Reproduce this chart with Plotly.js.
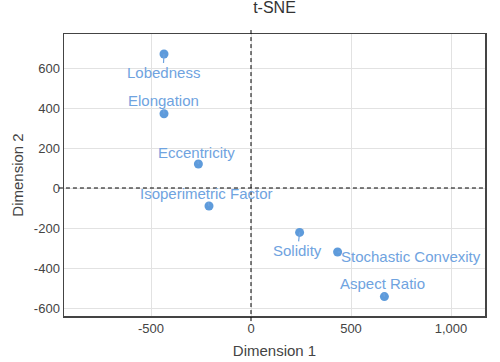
<!DOCTYPE html>
<html>
<head>
<meta charset="utf-8">
<script src="https://cdn.plot.ly/plotly-3.0.1.min.js"></script>
<style>html,body{margin:0;padding:0;background:#fff}#chart{width:500px;height:362px}</style>
</head>
<body>
<div id="chart"></div>
<script>
// Data
const features = ["Lobedness", "Elongation", "Eccentricity", "Isoperimetric Factor", "Solidity", "Stochastic Convexity", "Aspect Ratio"];
const dim1 = [-435, -435, -263, -210, 243, 433, 667];
const dim2 = [670, 371, 120, -90, -222, -320, -543];

// Tick values and labels
const xTickVals = [-500, 0, 500, 1000];
const xTickLabels = ["-500", "0", "500", "1,000"];
const yTickVals = [-600, -400, -200, 0, 200, 400, 600];
const yTickLabels = ["-600", "-400", "-200", "0", "200", "400", "600"];

// Label offsets in pixels (placement only)
const labelAx = [-1, -1, -2, -3, -2, 73, -2];
const labelAy = [18, -13, -12, -13, 18, 4, -13];

const pointColor = "#5e9bdb";
const labelColor = "#6fa3e0";
const fontFamily = "Arial, 'Liberation Sans', sans-serif";

const trace = {
  x: dim1,
  y: dim2,
  text: features,
  mode: "markers",
  type: "scatter",
  marker: {color: pointColor, size: 9},
  hoverinfo: "text",
  showlegend: false
};

const annotations = features.map((f, i) => ({
  x: dim1[i], y: dim2[i], xref: "x", yref: "y",
  text: f,
  showarrow: true,
  arrowhead: 0, arrowwidth: 1.2, arrowcolor: labelColor,
  ax: labelAx[i], ay: labelAy[i],
  standoff: 0, startstandoff: 0,
  borderpad: 0,
  font: {family: fontFamily, size: 15, color: labelColor}
}));

const layout = {
  width: 500, height: 362,
  margin: {l: 64, r: 15, t: 34, b: 46},
  paper_bgcolor: "#fff", plot_bgcolor: "#fff",
  font: {family: fontFamily, color: "#444"},
  title: {text: "t-SNE", xref: "paper", x: 0.5, xanchor: "center", y: 0.98, yanchor: "middle", font: {size: 16, color: "#333"}},
  xaxis: {
    range: [-935, 1170],
    tickvals: xTickVals, ticktext: xTickLabels,
    showgrid: true, gridcolor: "#e2e2e2", gridwidth: 1,
    zeroline: false,
    showline: true, mirror: true, linecolor: "#444", linewidth: 1.5,
    ticks: "", tickfont: {size: 13, color: "#444"},
    title: {text: "Dimension 1", font: {size: 15, color: "#444"}, standoff: 10}
  },
  yaxis: {
    range: [-640, 770],
    tickvals: yTickVals, ticktext: yTickLabels,
    showgrid: true, gridcolor: "#e2e2e2", gridwidth: 1,
    zeroline: false,
    showline: true, mirror: true, linecolor: "#444", linewidth: 1.5,
    ticks: "", tickfont: {size: 13, color: "#444"},
    title: {text: "Dimension 2", font: {size: 15, color: "#444"}, standoff: 6}
  },
  shapes: [
    {type: "line", xref: "x", yref: "paper", x0: 0, x1: 0, y0: -0.018, y1: 1.018, line: {color: "#000", width: 1, dash: "4px,3px"}},
    {type: "line", xref: "paper", yref: "y", x0: -0.012, x1: 1, y0: 0, y1: 0, line: {color: "#000", width: 1, dash: "4px,3px"}}
  ],
  annotations: annotations
};

Plotly.newPlot("chart", [trace], layout, {displayModeBar: false, staticPlot: true});
</script>
</body>
</html>
